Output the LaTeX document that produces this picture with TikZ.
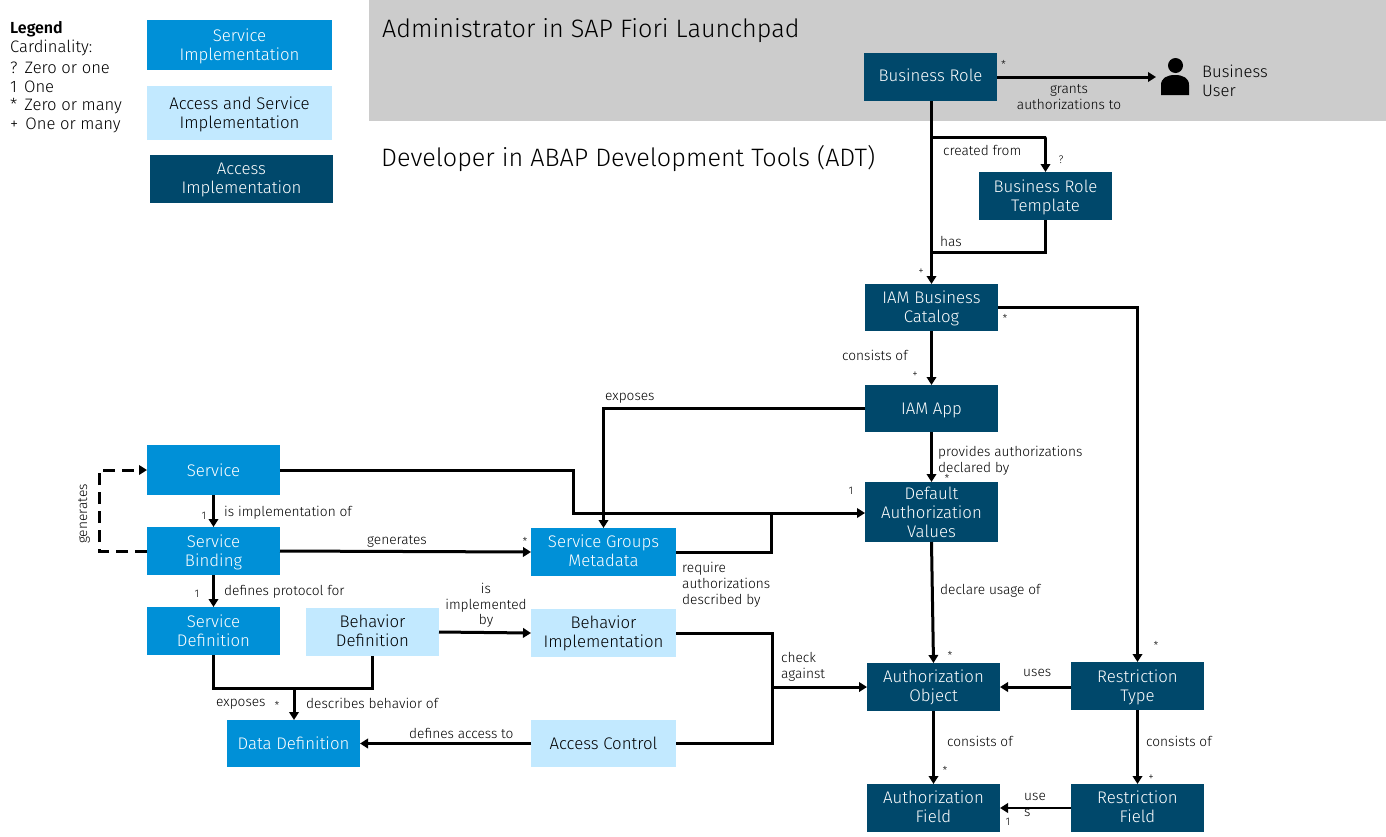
\documentclass[tikz,border=0pt]{standalone}
\usepackage{fontspec}
\setmainfont{Fira Sans Light}
\usetikzlibrary{arrows.meta}
\definecolor{dk}{HTML}{00486B}
\definecolor{md}{HTML}{0090D7}
\definecolor{lt}{HTML}{C2E9FF}
\definecolor{gy}{HTML}{CCCCCC}
\newcommand{\nudge}[2]{\raisebox{#1}[\height][\depth]{\begin{tabular}{@{}c@{}}#2\end{tabular}}}
\tikzset{
  box/.style={inner sep=0pt,outer sep=0pt,align=center,font=\fontsize{16.8}{19}\selectfont},
  dkbox/.style={box,fill=dk,text=white},
  mdbox/.style={box,fill=md,text=white},
  ltbox/.style={box,fill=lt,text=black},
  w133/.style={minimum width=133pt},
  w145/.style={minimum width=145pt},
  h48/.style={minimum height=48pt},
  lbl/.style={inner sep=0pt,font=\fontsize{13.7}{16}\selectfont,align=left,anchor=west,yshift=-1.5pt},
  clbl/.style={inner sep=0pt,font=\fontsize{13.7}{15.7}\selectfont,align=center,yshift=-1pt},
  card/.style={inner sep=0pt,font=\fontsize{11}{12}\selectfont},
  leg/.style={inner sep=0pt,font=\fontsize{16.6}{19}\selectfont,anchor=west,yshift=-1pt},
  ttl/.style={inner sep=0pt,font=\fontsize{25.2}{28}\selectfont,anchor=west,yshift=-1.5pt},
  conn/.style={line width=3pt,-{Triangle[length=8pt,width=9.5pt]}},
  plain/.style={line width=3pt},
}
\begin{document}
\begin{tikzpicture}[x=1pt,y=-1pt]
\useasboundingbox (0,0) rectangle (1386,836);
\fill[gy] (369,0) rectangle (1386,121);
% legend
\node[leg,font=\fontsize{16}{19}\selectfont\bfseries] (lg0) at (10,28) {Legend};
\node[leg] (lg1) at (10,47) {Cardinality:};
\node[leg] (lg2) at (10,67) {?\hspace{7pt}Zero or one};
\node[leg] (lg3) at (10,86) {1\hspace{7pt}One};
\node[leg] (lg4) at (10,105) {*\hspace{7pt}Zero or many};
\node[leg] (lg5) at (10,124) {+\hspace{7pt}One or many};
\node[mdbox,minimum width=185pt,minimum height=50pt] (k1) at (239.5,45) {\nudge{-2pt}{Service\\Implementation}};
\node[ltbox,minimum width=185pt,minimum height=54pt] (k2) at (239.5,113) {\nudge{-2pt}{Access and Service\\Implementation}};
\node[dkbox,minimum width=183pt,minimum height=48pt] (k3) at (241.5,179) {\nudge{-1pt}{Access\\Implementation}};
% titles
\node[ttl] (t1) at (382,29) {Administrator in SAP Fiori Launchpad};
\node[ttl] (t2) at (381,157) {Developer in ABAP Development Tools (ADT)};
% dark boxes
\node[dkbox,w133,h48] (br) at (930.5,77) {\nudge{-1pt}{Business Role}};
\node[dkbox,w133,h48] (brt) at (1045.5,196) {\nudge{-2pt}{Business Role\\Template}};
\node[dkbox,w133,minimum height=47pt] (cat) at (931.5,307.5) {\nudge{-2pt}{IAM Business\\Catalog}};
\node[dkbox,w133,minimum height=47pt] (app) at (931.5,408.5) {\nudge{-2pt}{IAM App}};
\node[dkbox,w133,minimum height=60pt] (dav) at (931.5,512) {Default\\Authorization\\Values};
\node[dkbox,w133,h48] (ao) at (933.5,687) {\nudge{-1pt}{Authorization\\Object}};
\node[dkbox,w133,h48] (rt) at (1137.5,686) {\nudge{-2pt}{Restriction\\Type}};
\node[dkbox,w133,h48] (af) at (933.5,808) {\nudge{-1pt}{Authorization\\Field}};
\node[dkbox,w133,h48] (rf) at (1137.5,808) {\nudge{-1pt}{Restriction\\Field}};
% mid boxes
\node[mdbox,w133,minimum height=50pt] (svc) at (213.5,470) {\nudge{-3pt}{Service}};
\node[mdbox,w133,h48] (sb) at (213.5,551) {\nudge{-2pt}{Service\\Binding}};
\node[mdbox,w133,h48] (sd) at (213.5,631) {Service\\Definition};
\node[mdbox,w133,minimum height=47pt] (dd) at (293.5,743.5) {Data Definition};
\node[mdbox,w145,h48] (sgm) at (603.5,552) {\nudge{-1pt}{Service Groups\\Metadata}};
% light boxes
\node[ltbox,w133,h48] (bd) at (372.5,632) {\nudge{-1pt}{Behavior\\Definition}};
\node[ltbox,w145,h48] (bi) at (603.5,633) {Behavior\\Implementation};
\node[ltbox,w145,minimum height=47pt] (ac) at (603.5,743.5) {Access Control};
% person icon
\fill[black] (1175.5,65.5) circle (7.5pt);
\fill[black] (1161,95) -- (1161,85) .. controls (1161,78) and (1167,75) .. (1175,75) .. controls (1183,75) and (1189,78) .. (1189,85) -- (1189,95) -- cycle;
\node[leg,align=left] (bu) at (1202,79.5) {Business\\User};
\coordinate (user) at (1156,77);
% bends
\coordinate (b1) at (931,137);
\coordinate (b2) at (931,252);
\coordinate (m1) at (573,470);
\coordinate (m2) at (573,513);
\coordinate (m3) at (771,513);
\coordinate (m4) at (772,687);
\coordinate (m5) at (294,688);
\coordinate (d1) at (99,551);
\coordinate (d2) at (99,470);
% connectors
\draw[conn] (br.east |- user) -- (user);
\draw[conn] (br.south -| cat.north) -- (cat.north);
\draw[conn] (b1) -- ++(115,0) -| (brt.north);
\draw[plain] (brt.south) |- (b2);
\draw[conn] (cat.south) -- (app.north);
\draw[conn] (cat.east) -| (rt.north);
\draw[conn] (app.west) -| (sgm.north);
\draw[conn] (app.south) -- (dav.north);
\draw[conn] (dav.south) -- (ao.north);
\draw[conn] (svc.east) -- (m1) -- (m2) -- (dav.west |- m2);
\draw[plain] (sgm.east) -| (m3);
\draw[conn] (svc.south) -- (sb.north);
\draw[conn] (sb.south) -- (sd.north);
\draw[conn] (sb.east) -- (sgm.west);
\draw[conn,dash pattern=on 12pt off 7pt] (sb.west) -- (d1) -- (d2) -- (svc.west);
\draw[plain] (sd.south) |- (m5);
\draw[plain] (bd.south) |- (m5);
\draw[conn] (m5) -- (dd.north -| m5);
\draw[conn] (bd.east) -- (bi.west);
\draw[conn] (ac.west) -- (dd.east);
\draw[plain] (bi.east) -| (m4);
\draw[plain] (ac.east) -| (m4);
\draw[conn] (m4) -- (ao.west);
\draw[conn] (rt.west |- ao.west) -- (ao.east);
\draw[conn] (ao.south) -- (af.north);
\draw[conn] (rt.south) -- (rf.north);
\draw[conn,line width=2.2pt] (rf.west) -- (af.east);
% labels
\node[clbl] (a1) at (1069,96) {grants\\authorizations to};
\node[lbl] (a2) at (943,149) {created from};
\node[lbl] (a3) at (940,240) {has};
\node[lbl] (a4) at (842,354) {consists of};
\node[lbl] (a5) at (605,397) {exposes};
\node[lbl] (a6) at (938,459) {provides authorizations\\declared by};
\node[lbl] (a7) at (940,589) {declare usage of};
\node[lbl] (a8) at (682,583) {require\\authorizations\\described by};
\node[lbl] (a9) at (781,665) {check\\against};
\node[clbl] (a10) at (397,540) {generates};
\node[lbl] (a11) at (224,511) {is implementation of};
\node[lbl] (a12) at (224,590) {defines protocol for};
\node[clbl] (a13) at (486,604.5) {is\\implemented\\by};
\node[lbl] (a14) at (216,703) {exposes};
\node[lbl] (a15) at (306,702) {describes behavior of};
\node[lbl] (a16) at (409,732) {defines access to};
\node[lbl] (a17) at (1023,671) {uses};
\node[lbl] (a18) at (947,740) {consists of};
\node[lbl] (a19) at (1146,740) {consists of};
\node[lbl] (a20) at (1024,803) {use\\s};
\node[clbl,rotate=90,yshift=0pt] (a21) at (84,513) {generates};
% cardinalities
\node[card] (c1) at (1003.5,64) {*};
\node[card] (c2) at (1061,160) {?};
\node[card] (c3) at (921,272) {+};
\node[card] (c4) at (1005,318) {*};
\node[card] (c5) at (915,375) {+};
\node[card] (c6) at (947,478) {*};
\node[card] (c7) at (851,491) {1};
\node[card] (c8) at (525,541) {*};
\node[card] (c9) at (204,516) {1};
\node[card] (c10) at (197,594) {1};
\node[card] (c11) at (277,705) {*};
\node[card] (c12) at (950,655) {*};
\node[card] (c13) at (1156,645) {*};
\node[card] (c14) at (945,770) {*};
\node[card] (c15) at (1151,778) {+};
\node[card] (c16) at (1008,822) {1};
\end{tikzpicture}
\end{document}
